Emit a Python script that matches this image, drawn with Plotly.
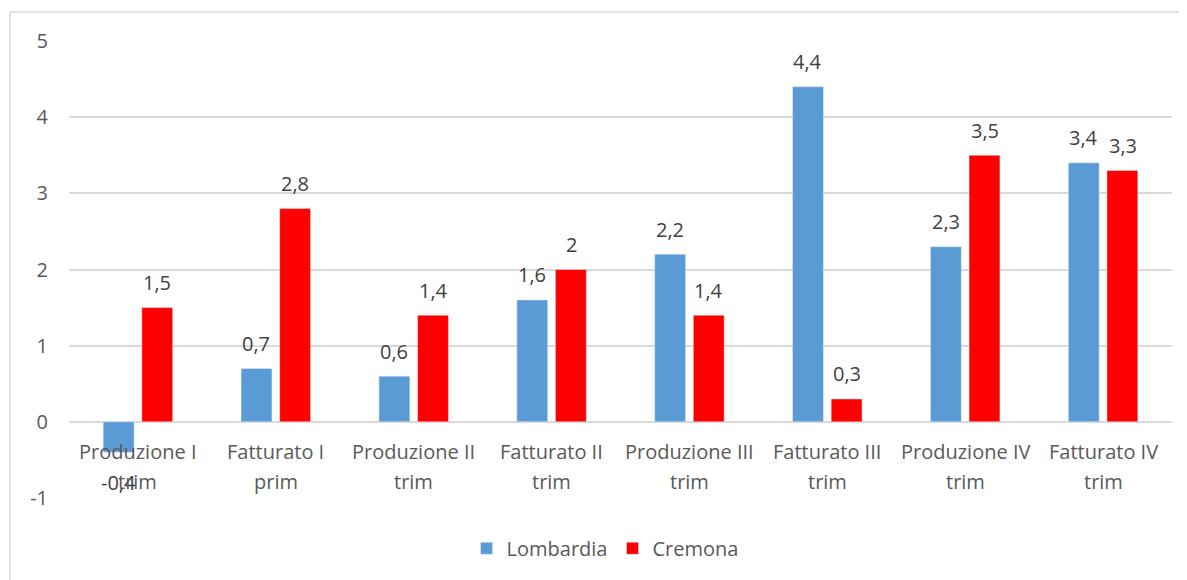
import plotly.graph_objects as go

categories = ["Produzione I<br>trim", "Fatturato I<br>prim", "Produzione II<br>trim", "Fatturato II<br>trim",
              "Produzione III<br>trim", "Fatturato III<br>trim", "Produzione IV<br>trim", "Fatturato IV<br>trim"]
lombardia = [-0.4, 0.7, 0.6, 1.6, 2.2, 4.4, 2.3, 3.4]
cremona = [1.5, 2.8, 1.4, 2.0, 1.4, 0.3, 3.5, 3.3]
y_ticks = [-1, 0, 1, 2, 3, 4, 5]

def fmt(v):
    return ("%g" % v).replace(".", ",")

FONT = "Open Sans"
FS = 20
fig = go.Figure()
fig.add_trace(go.Bar(name="Lombardia", x=categories, y=lombardia, marker_color="#5b9bd5"))
fig.add_trace(go.Bar(name="Cremona", x=categories, y=cremona, marker_color="#ff0000"))

# value labels
for series, dx in ((lombardia, -19.5), (cremona, 19.5)):
    for c, v in zip(categories, series):
        fig.add_annotation(x=c, y=v, xref="x", yref="y", text=fmt(v), showarrow=False,
                           xshift=dx, yshift=25 if v >= 0 else -30, yanchor="middle",
                           font=dict(color="#404040", size=FS, family=FONT))

# category labels placed just below the zero line
for c in categories:
    for i, line in enumerate(c.split("<br>")):
        fig.add_annotation(x=c, y=0, xref="x", yref="y", text=line, showarrow=False, yanchor="middle",
                           yshift=-30 - 30 * i, font=dict(color="#595959", size=FS, family=FONT))

fig.add_shape(type="rect", xref="paper", yref="paper", x0=-0.0535, x1=1.04, y0=-0.25, y1=1.0635,
              line=dict(color="#d9d9d9", width=1.5), fillcolor="rgba(0,0,0,0)", layer="below")

fig.update_layout(
    width=1179, height=572,
    margin=dict(l=61, r=15, t=33, b=82),
    plot_bgcolor="white", paper_bgcolor="white",
    barmode="group", bargap=0.44, bargroupgap=0.2,
    showlegend=True,
    legend=dict(orientation="h", x=0.486, xanchor="center", y=-0.11, yanchor="middle",
                font=dict(color="#595959", size=FS, family=FONT), itemwidth=30),
    xaxis=dict(showticklabels=False, showgrid=False, zeroline=False, showline=False),
    yaxis=dict(range=[-1, 5], tickvals=y_ticks, ticktext=[str(t) for t in y_ticks],
               showgrid=True, gridcolor="#d9d9d9", gridwidth=1.5,
               zeroline=True, zerolinecolor="#d9d9d9", zerolinewidth=1.5,
               tickfont=dict(color="#595959", size=FS, family=FONT), ticks="", ticklabelstandoff=20),
)
fig.write_html("out.html")
